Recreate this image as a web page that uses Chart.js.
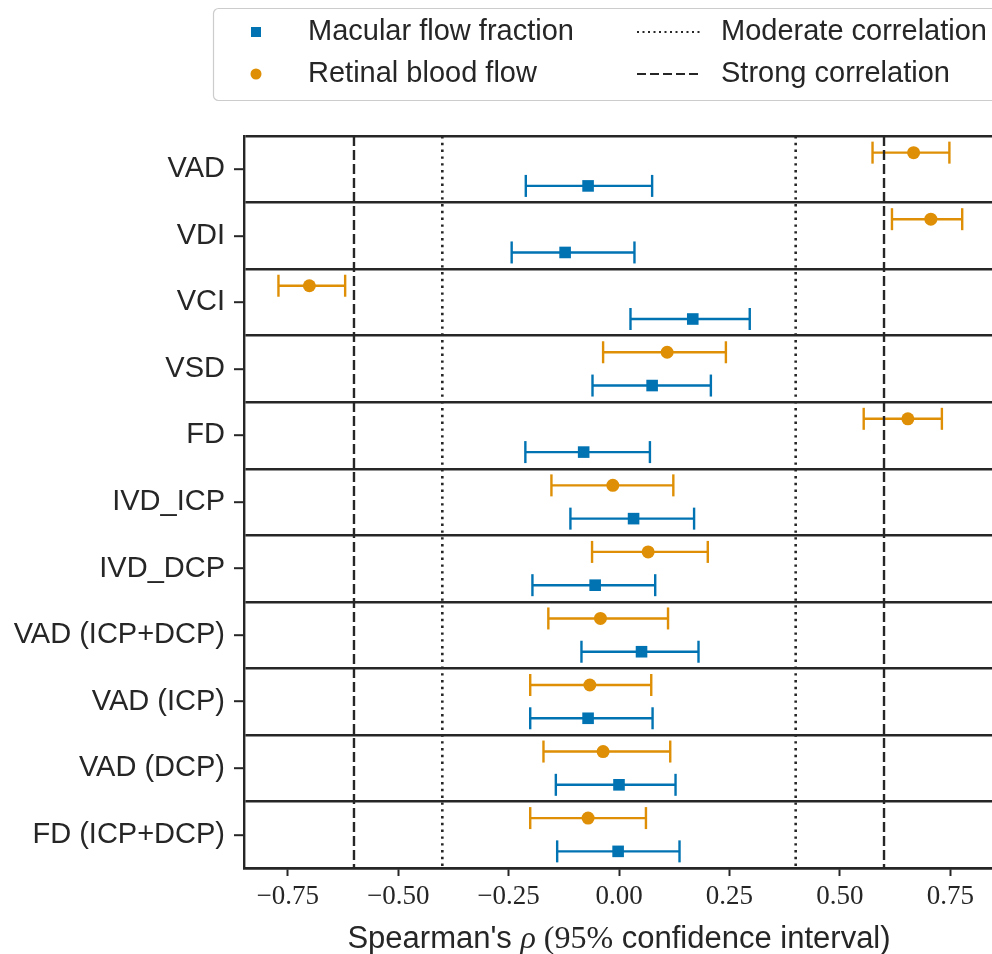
<!DOCTYPE html>
<html lang="en">

<head>
    <meta charset="UTF-8">
    <title>Spearman correlation</title>
    <script src="https://cdn.jsdelivr.net/npm/chart.js"></script>
    <style>
        body { margin: 0; overflow: hidden; background: #fff; }
        #grafico { display: block; }
    </style>
</head>

<body>
    <canvas id="grafico" width="1008" height="954"></canvas>
</body>

</html>

<script>

    // categories, top to bottom
    var categorias = ['VAD', 'VDI', 'VCI', 'VSD', 'FD', 'IVD_ICP', 'IVD_DCP',
        'VAD (ICP+DCP)', 'VAD (ICP)', 'VAD (DCP)', 'FD (ICP+DCP)'];

    // Macular flow fraction (blue squares)
    var macularRho = [-0.070, -0.122, 0.167, 0.075, -0.080, 0.033, -0.054, 0.051, -0.070, 0.000, -0.002];
    var macularLow = [-0.211, -0.243, 0.026, -0.060, -0.212, -0.110, -0.196, -0.085, -0.201, -0.143, -0.140];
    var macularHigh = [0.075, 0.035, 0.296, 0.208, 0.070, 0.170, 0.082, 0.180, 0.076, 0.128, 0.137];

    // Retinal blood flow (orange circles)
    var retinalRho = [0.667, 0.706, -0.701, 0.109, 0.654, -0.014, 0.066, -0.042, -0.066, -0.036, -0.070];
    var retinalLow = [0.574, 0.618, -0.771, -0.036, 0.554, -0.153, -0.061, -0.160, -0.201, -0.171, -0.201];
    var retinalHigh = [0.748, 0.777, -0.620, 0.242, 0.731, 0.123, 0.201, 0.111, 0.073, 0.116, 0.061];

    // reference lines
    var moderada = [-0.4, 0.4];
    var forte = [-0.6, 0.6];

    var xTicks = [-0.75, -0.50, -0.25, 0.00, 0.25, 0.50, 0.75];

    var azul = '#0173b2';
    var laranja = '#de8f05';
    var preto = '#262626';
    var fonteSans = '"Liberation Sans", Arial, sans-serif';
    var fonteSerif = '"Liberation Serif", "DejaVu Serif", serif';

    // orange sits in the upper quarter of each row, blue in the lower quarter
    function pontos(valores, desloc) {
        var lista = [];
        for (let i = 0; i < valores.length; i++) {
            lista.push({ x: valores[i], y: i + desloc });
        }
        return lista;
    }

    function barras(baixo, alto, desloc) {
        var lista = [];
        for (let i = 0; i < baixo.length; i++) {
            lista.push({ x: baixo[i], y: i + desloc });
            lista.push({ x: alto[i], y: i + desloc });
            lista.push({ x: null, y: null });
        }
        return lista;
    }

    function linhasVerticais(valores) {
        var lista = [];
        for (let i = 0; i < valores.length; i++) {
            lista.push({ x: valores[i], y: 0 });
            lista.push({ x: valores[i], y: categorias.length });
            lista.push({ x: null, y: null });
        }
        return lista;
    }

    function formatarTick(v) {
        var s = Math.abs(v).toFixed(2);
        return v < 0 ? '\u2212' + s : s;
    }

    // legend + mixed font axis title
    var pluginExtras = {
        id: 'extras',
        afterDraw: function (chart) {
            var ctx = chart.ctx;
            ctx.save();

            // legend box
            ctx.fillStyle = 'rgba(255,255,255,0.9)';
            ctx.strokeStyle = '#cccccc';
            ctx.lineWidth = 1.2;
            ctx.beginPath();
            ctx.roundRect(213.5, 8.5, 820, 92, 5);
            ctx.fill();
            ctx.stroke();

            ctx.fillStyle = azul;
            ctx.fillRect(251, 27, 10, 10);
            ctx.fillStyle = laranja;
            ctx.beginPath();
            ctx.arc(256, 74, 5.5, 0, Math.PI * 2);
            ctx.fill();

            ctx.strokeStyle = preto;
            ctx.lineWidth = 2;
            ctx.setLineDash([2, 3.5]);
            ctx.beginPath();
            ctx.moveTo(637, 32);
            ctx.lineTo(700, 32);
            ctx.stroke();
            ctx.setLineDash([9, 4]);
            ctx.beginPath();
            ctx.moveTo(637, 74);
            ctx.lineTo(700, 74);
            ctx.stroke();
            ctx.setLineDash([]);

            ctx.fillStyle = preto;
            ctx.font = '29px ' + fonteSans;
            ctx.textBaseline = 'middle';
            ctx.textAlign = 'left';
            ctx.fillText('Macular flow fraction', 308, 32);
            ctx.fillText('Retinal blood flow', 308, 74);
            ctx.fillText('Moderate correlation', 721, 32);
            ctx.fillText('Strong correlation', 721, 74);

            // x axis title
            var partes = [
                ['Spearman\'s ', '31px ' + fonteSans],
                ['\u03C1', 'italic 32px ' + fonteSerif],
                [' (95%', '32px ' + fonteSerif],
                [' confidence interval)', '31px ' + fonteSans]
            ];
            var total = 0;
            for (let i = 0; i < partes.length; i++) {
                ctx.font = partes[i][1];
                total += ctx.measureText(partes[i][0]).width;
            }
            var area = chart.chartArea;
            var x = (area.left + area.right) / 2 - total / 2;
            ctx.textBaseline = 'alphabetic';
            for (let i = 0; i < partes.length; i++) {
                ctx.font = partes[i][1];
                ctx.fillText(partes[i][0], x, 948);
                x += ctx.measureText(partes[i][0]).width;
            }
            ctx.restore();
        }
    };

    var graficoCanva = document.getElementById('grafico');

    new Chart(graficoCanva, {
        type: 'scatter',
        data: {
            datasets: [
                {
                    label: 'Strong correlation',
                    type: 'line',
                    data: linhasVerticais(forte),
                    borderColor: preto,
                    borderWidth: 2.4,
                    borderDash: [10, 4],
                    pointRadius: 0,
                    spanGaps: false
                },
                {
                    label: 'Moderate correlation',
                    type: 'line',
                    data: linhasVerticais(moderada),
                    borderColor: preto,
                    borderWidth: 2.6,
                    borderDash: [2.4, 4.4],
                    pointRadius: 0,
                    spanGaps: false
                },
                {
                    label: 'Retinal blood flow',
                    data: pontos(retinalRho, 0.25),
                    pointStyle: 'circle',
                    pointRadius: 6.5,
                    pointBorderWidth: 0,
                    backgroundColor: laranja,
                    borderColor: laranja
                },
                {
                    label: 'Macular flow fraction',
                    data: pontos(macularRho, 0.75),
                    pointStyle: 'rect',
                    pointRadius: 8.2,
                    pointBorderWidth: 0,
                    backgroundColor: azul,
                    borderColor: azul
                },
                {
                    label: 'Retinal CI',
                    type: 'line',
                    data: barras(retinalLow, retinalHigh, 0.25),
                    borderColor: laranja,
                    borderWidth: 2.4,
                    pointStyle: 'line',
                    rotation: 90,
                    pointRadius: 11,
                    pointBorderWidth: 2.4,
                    pointBorderColor: laranja,
                    spanGaps: false
                },
                {
                    label: 'Macular CI',
                    type: 'line',
                    data: barras(macularLow, macularHigh, 0.75),
                    borderColor: azul,
                    borderWidth: 2.4,
                    pointStyle: 'line',
                    rotation: 90,
                    pointRadius: 11,
                    pointBorderWidth: 2.4,
                    pointBorderColor: azul,
                    spanGaps: false
                }
            ]
        },
        options: {
            responsive: false,
            animation: false,
            events: [],
            layout: {
                padding: { top: 136, right: 14, left: 0, bottom: 0 }
            },
            plugins: {
                legend: { display: false },
                tooltip: { enabled: false }
            },
            scales: {
                x: {
                    type: 'linear',
                    min: -0.849,
                    max: 0.849,
                    afterBuildTicks: function (scale) {
                        scale.ticks = xTicks.map(v => ({ value: v }));
                    },
                    afterFit: function (scale) {
                        scale.height = 86;
                    },
                    border: { display: true, color: preto, width: 2.4 },
                    grid: {
                        drawOnChartArea: false,
                        drawTicks: true,
                        tickLength: 8,
                        tickColor: preto,
                        tickWidth: 2
                    },
                    ticks: {
                        color: preto,
                        font: { family: fonteSerif, size: 27 },
                        padding: 5,
                        maxRotation: 0,
                        callback: function (v) { return formatarTick(v); }
                    }
                },
                y: {
                    type: 'linear',
                    reverse: true,
                    min: 0,
                    max: categorias.length,
                    afterBuildTicks: function (scale) {
                        var t = [];
                        for (let i = 0; i <= categorias.length * 2; i++) {
                            t.push({ value: i / 2 });
                        }
                        scale.ticks = t;
                    },
                    afterFit: function (scale) {
                        scale.width = 244;
                    },
                    border: { display: true, color: preto, width: 2.4 },
                    grid: {
                        lineWidth: 2.4,
                        color: function (c) {
                            return c.tick && c.tick.value % 1 === 0 ? preto : 'rgba(0,0,0,0)';
                        },
                        drawTicks: true,
                        tickLength: 10,
                        tickWidth: 2,
                        tickColor: function (c) {
                            return c.tick && c.tick.value % 1 !== 0 ? preto : 'rgba(0,0,0,0)';
                        }
                    },
                    ticks: {
                        autoSkip: false,
                        color: preto,
                        font: { family: fonteSans, size: 29 },
                        padding: 9,
                        callback: function (v) {
                            if (v % 1 === 0) return '';
                            return categorias[Math.floor(v)];
                        }
                    }
                }
            }
        },
        plugins: [pluginExtras]
    });

</script>
